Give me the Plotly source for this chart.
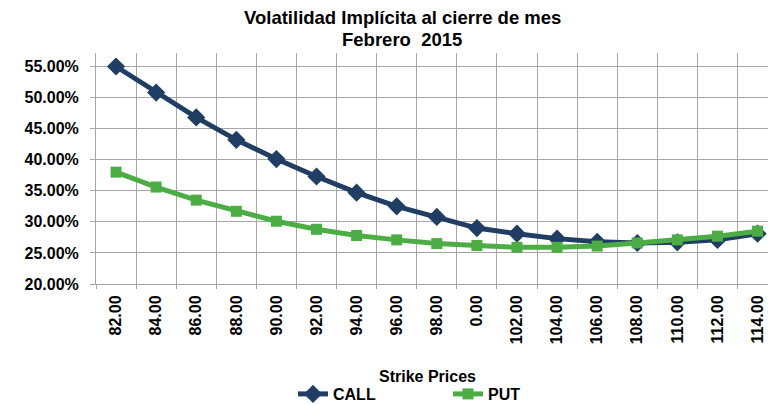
import plotly.graph_objects as go

strikes = ["82.00", "84.00", "86.00", "88.00", "90.00", "92.00", "94.00", "96.00", "98.00",
           "0.00", "102.00", "104.00", "106.00", "108.00", "110.00", "112.00", "114.00"]
call_vol = [0.550, 0.508, 0.468, 0.432, 0.401, 0.373, 0.347, 0.325, 0.308,
            0.290, 0.281, 0.273, 0.268, 0.266, 0.267, 0.271, 0.281]
put_vol = [0.380, 0.356, 0.335, 0.317, 0.301, 0.288, 0.278, 0.271, 0.265,
           0.262, 0.259, 0.259, 0.261, 0.266, 0.271, 0.277, 0.285]
y_ticks = [0.20, 0.25, 0.30, 0.35, 0.40, 0.45, 0.50, 0.55]

FONT = "Liberation Sans, Arial, sans-serif"
NAVY = "#203D63"
GREEN = "#4CAD44"
GRID = "#A6A6A6"

OFF = 8  # default page body margin
W, H = 776 - OFF, 404 - OFF
# plot area in figure pixels (page pixels minus body offset)
L, R, T, B = 96 - OFF, 776 - OFF, 53 - OFF, 284 - OFF
PW, PH = R - L, B - T

fig = go.Figure()
fig.add_trace(go.Scatter(
    x=strikes, y=call_vol, name="CALL", mode="lines+markers",
    line=dict(color=NAVY, width=5),
    marker=dict(symbol="diamond", size=14, color=NAVY),
))
fig.add_trace(go.Scatter(
    x=strikes, y=put_vol, name="PUT", mode="lines+markers",
    line=dict(color=GREEN, width=5),
    marker=dict(symbol="square", size=11, color=GREEN),
))

def px_x(x):
    return (x - OFF - L) / PW

def px_y(y):
    return (B - (y - OFF)) / PH

fig.update_layout(
    width=W, height=H,
    margin=dict(l=L, r=W - R, t=T, b=H - B, autoexpand=False),
    paper_bgcolor="white", plot_bgcolor="white",
    font=dict(family=FONT, color="black", size=16),
    showlegend=True,
    legend=dict(
        orientation="h", xref="container", yref="container",
        x=(293 - OFF) / W, y=1 - (394 - OFF) / H, xanchor="left", yanchor="middle",
        font=dict(family=FONT, size=16, color="black", weight="bold"),
        entrywidth=110, entrywidthmode="pixels",
        bgcolor="rgba(0,0,0,0)", tracegroupgap=0,
    ),
    xaxis=dict(
        type="category", range=[-0.5, 16.46], automargin=False,
        showgrid=True, gridcolor=GRID, gridwidth=1,
        tickson="boundaries", ticks="outside", ticklen=4, tickcolor=GRID,
        showline=True, linecolor=GRID, linewidth=1,
        tickangle=-90, tickfont=dict(family=FONT, size=16, weight="bold"),
        ticklabelstandoff=4, zeroline=False, fixedrange=True,
    ),
    yaxis=dict(
        range=[0.20, 0.5717], tickvals=y_ticks, tickformat=".2%", automargin=False,
        showgrid=True, gridcolor=GRID, gridwidth=1,
        ticks="outside", ticklen=5, tickcolor=GRID,
        showline=True, linecolor=GRID, linewidth=1,
        tickfont=dict(family=FONT, size=16, weight="bold"),
        ticklabelstandoff=8, zeroline=False, fixedrange=True,
    ),
    annotations=[
        dict(text="Volatilidad Implícita al cierre de mes",
             xref="paper", yref="paper", x=px_x(402), y=px_y(18),
             xanchor="center", yanchor="middle", showarrow=False,
             font=dict(family=FONT, size=18.5, weight="bold", color="black")),
        dict(text="Febrero\u00a0 2015",
             xref="paper", yref="paper", x=px_x(402), y=px_y(39),
             xanchor="center", yanchor="middle", showarrow=False,
             font=dict(family=FONT, size=18.5, weight="bold", color="black")),
        dict(text="Strike Prices",
             xref="paper", yref="paper", x=px_x(427), y=px_y(376),
             xanchor="center", yanchor="middle", showarrow=False,
             font=dict(family=FONT, size=16, weight="bold", color="black")),
    ],
)

fig.write_html("out.html")
